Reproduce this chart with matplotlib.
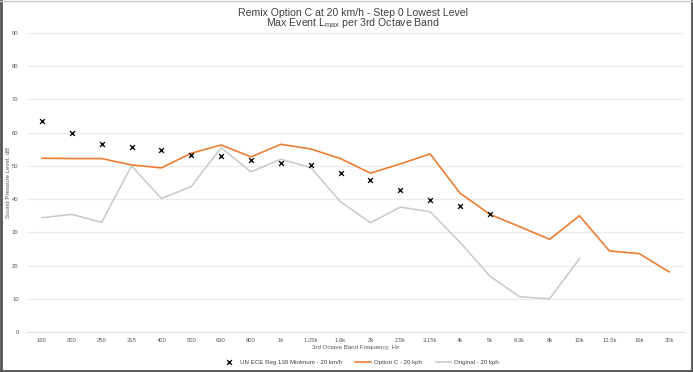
import matplotlib
matplotlib.use('Agg')
import matplotlib.pyplot as plt
from matplotlib.lines import Line2D

plt.rcParams['font.family'] = ['Liberation Sans', 'DejaVu Sans']
plt.rcParams['mathtext.fontset'] = 'custom'
plt.rcParams['mathtext.rm'] = 'Liberation Sans'

bands = ['160', '200', '250', '315', '400', '500', '630', '800', '1k', '1.25k',
         '1.6k', '2k', '2.5k', '3.15k', '4k', '5k', '6.3k', '8k', '10k',
         '12.5k', '16k', '20k']

# UN ECE minimum (only given up to 5k)
ece_min = [63.4, 60.0, 56.7, 55.7, 54.8, 53.2, 52.9, 51.8, 51.0, 50.4,
           48.0, 45.8, 42.7, 39.8, 38.0, 35.4]
option_c = [52.3, 52.2, 52.2, 50.3, 49.4, 53.8, 56.3, 52.7, 56.5, 55.1,
            52.2, 47.8, 50.6, 53.6, 41.8, 35.4, 31.7, 27.9, 35.0, 24.4,
            23.6, 18.1]
original = [34.4, 35.4, 33.0, 50.0, 40.2, 43.8, 55.5, 48.2, 52.0, 49.5,
            39.2, 32.9, 37.6, 36.2, 27.0, 16.8, 10.6, 10.0, 22.1]

fig = plt.figure(figsize=(6.93, 3.72), dpi=100)
ax = fig.add_axes([27 / 693, 40 / 372, 657 / 693, 299 / 372])

x = list(range(len(bands)))
ax.plot(x[:len(original)], original, color='#C8C8C8', lw=1.1, label='Original - 20 kph', zorder=2)
ax.plot(x[:len(option_c)], option_c, color='#ED7D31', lw=1.2, label='Option C - 20 kph', zorder=3)
ax.scatter(x[:len(ece_min)], ece_min, marker='x', color='#111111', s=12, lw=1.0,
           label='UN ECE Reg 138 Minimum - 20 km/h', zorder=4)

ax.set_xlim(-0.5, len(bands) - 0.5)
ax.set_ylim(0, 90)
ax.set_yticks(range(0, 91, 10))
ax.set_xticks(x)
ax.set_xticklabels(bands)
ax.grid(axis='y', color='#EBEBEB', lw=0.8)
ax.set_axisbelow(True)
for s in ['top', 'right', 'left']:
    ax.spines[s].set_visible(False)
ax.spines['bottom'].set_color('#E0E0E0')
ax.tick_params(axis='both', length=0, labelsize=4.2, colors='#595959')
ax.tick_params(axis='x', pad=4)
ax.tick_params(axis='y', pad=6)

ax.set_xlabel('3rd Octave Band Frequency, Hz', fontsize=4.4, color='#595959', labelpad=1.5)
ax.set_ylabel('Sound Pressure Level, dB', fontsize=4.4, color='#595959', labelpad=1.5)

fig.text(0.509, 1 - 12.5 / 372, 'Remix Option C at 20 km/h - Step 0 Lowest Level', ha='center', va='center',
         fontsize=7.6, color='#404040')
fig.text(0.509, 1 - 23.5 / 372, r'Max Event L$_{\mathrm{max}}$ per 3rd Octave Band', ha='center', va='center',
         fontsize=7.6, color='#404040')

h, l = ax.get_legend_handles_labels()
order = [2, 1, 0]
ax.legend([h[i] for i in order], [l[i] for i in order], loc='center', ncol=3,
          bbox_to_anchor=(360 / 693, 10 / 372), bbox_transform=fig.transFigure,
          frameon=False, fontsize=4.4, labelcolor='#404040', handlelength=2.6,
          columnspacing=2.2, handletextpad=0.5)

# frame round the picture: dark left/right/bottom, light top
fig.add_artist(Line2D([0.002, 0.002], [0, 1], color='#555555', lw=2.0, transform=fig.transFigure))
fig.add_artist(Line2D([0.998, 0.998], [0, 1], color='#555555', lw=2.0, transform=fig.transFigure))
fig.add_artist(Line2D([0, 1], [0.003, 0.003], color='#555555', lw=2.0, transform=fig.transFigure))
fig.add_artist(Line2D([0, 1], [0.998, 0.998], color='#C8C8C8', lw=1.0, transform=fig.transFigure))

fig.savefig('out.png', dpi=100)
